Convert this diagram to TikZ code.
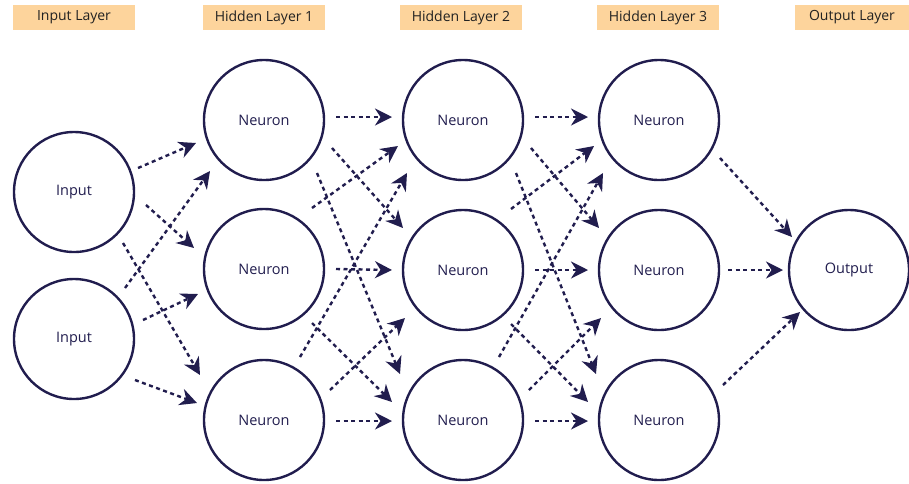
\documentclass[tikz,border=0pt]{standalone}
\usepackage{fontspec}
\setmainfont{Open Sans}
\usetikzlibrary{arrows.meta}
\definecolor{navy}{HTML}{211D4E}
\definecolor{peach}{HTML}{FDD49C}
\definecolor{labeltext}{HTML}{222222}
\begin{document}
\begin{tikzpicture}[x=1pt,y=-1pt,
  neuron/.style={circle,draw=navy,line width=2.4pt,minimum size=120pt,inner sep=0pt,
    text=navy,font=\fontsize{14.5}{16}\selectfont},
  layerlabel/.style={fill=peach,minimum width=122pt,minimum height=25pt,inner sep=0pt,
    text=labeltext,font=\fontsize{14}{16}\selectfont},
  arr/.style={draw=navy,line width=2.4pt,dash pattern=on 4pt off 3.5pt,
    -{Stealth[length=17pt,width=17pt,inset=5.5pt]}}]
\useasboundingbox (0,0) rectangle (909,483);
% layer labels
\node[layerlabel] (l0) at (74,17.5) {Input Layer};
\node[layerlabel] (l1) at (264,17.5) {Hidden Layer 1};
\node[layerlabel] (l2) at (461,17.5) {Hidden Layer 2};
\node[layerlabel] (l3) at (658,17.5) {Hidden Layer 3};
\node[layerlabel,minimum width=114pt] (l4) at (852,17.5) {Output Layer};
% neurons
\node[neuron] (i1) at (74,192) {Input};
\node[neuron] (i2) at (74,339) {Input};
\node[neuron] (a1) at (264,120) {Neuron};
\node[neuron] (a2) at (264,269) {Neuron};
\node[neuron] (a3) at (264,420) {Neuron};
\node[neuron] (b1) at (463,120) {Neuron};
\node[neuron] (b2) at (463,270) {Neuron};
\node[neuron] (b3) at (463,420) {Neuron};
\node[neuron] (c1) at (659,120) {Neuron};
\node[neuron] (c2) at (659,270) {Neuron};
\node[neuron] (c3) at (659,420) {Neuron};
\node[neuron] (o) at (849,270) {Output};
% input -> hidden 1
\draw[arr] ([shift={(64,-24)}]i1.center) -- ([shift={(-68,23)}]a1.center);
\draw[arr] ([shift={(72,13)}]i1.center) -- ([shift={(-70,-21)}]a2.center);
\draw[arr] ([shift={(49,51)}]i1.center) -- ([shift={(-64,-45)}]a3.center);
\draw[arr] ([shift={(51,-51)}]i2.center) -- ([shift={(-54,51)}]a1.center);
\draw[arr] ([shift={(69,-19)}]i2.center) -- ([shift={(-66,25)}]a2.center);
\draw[arr] ([shift={(61,41)}]i2.center) -- ([shift={(-67,-17)}]a3.center);
% hidden -> hidden
\foreach \p/\q in {a/b,b/c}{
  \draw[arr] ([shift={(72,-3)}]\p1.center) -- ([shift={(-71,-3)}]\q1.center);
  \draw[arr] ([shift={(68,28)}]\p1.center) -- ([shift={(-60,-42)}]\q2.center);
  \draw[arr] ([shift={(53,53)}]\p1.center) -- ([shift={(-63,-46)}]\q3.center);
  \draw[arr] ([shift={(48,-61)}]\p2.center) -- ([shift={(-65,26)}]\q1.center);
  \draw[arr] ([shift={(72,0)}]\p2.center) -- ([shift={(-71,0)}]\q2.center);
  \draw[arr] ([shift={(48,54)}]\p2.center) -- ([shift={(-71,-18)}]\q3.center);
  \draw[arr] ([shift={(36,-63)}]\p3.center) -- ([shift={(-56,53)}]\q1.center);
  \draw[arr] ([shift={(66,-30)}]\p3.center) -- ([shift={(-58,48)}]\q2.center);
  \draw[arr] ([shift={(72,1)}]\p3.center) -- ([shift={(-71,1)}]\q3.center);
}
% hidden 3 -> output
\draw[arr] ([shift={(61,38)}]c1.center) -- ([shift={(-57,-33)}]o.center);
\draw[arr] ([shift={(69,0)}]c2.center) -- ([shift={(-66,0)}]o.center);
\draw[arr] ([shift={(64,-35)}]c3.center) -- ([shift={(-49,42)}]o.center);
\end{tikzpicture}
\end{document}
